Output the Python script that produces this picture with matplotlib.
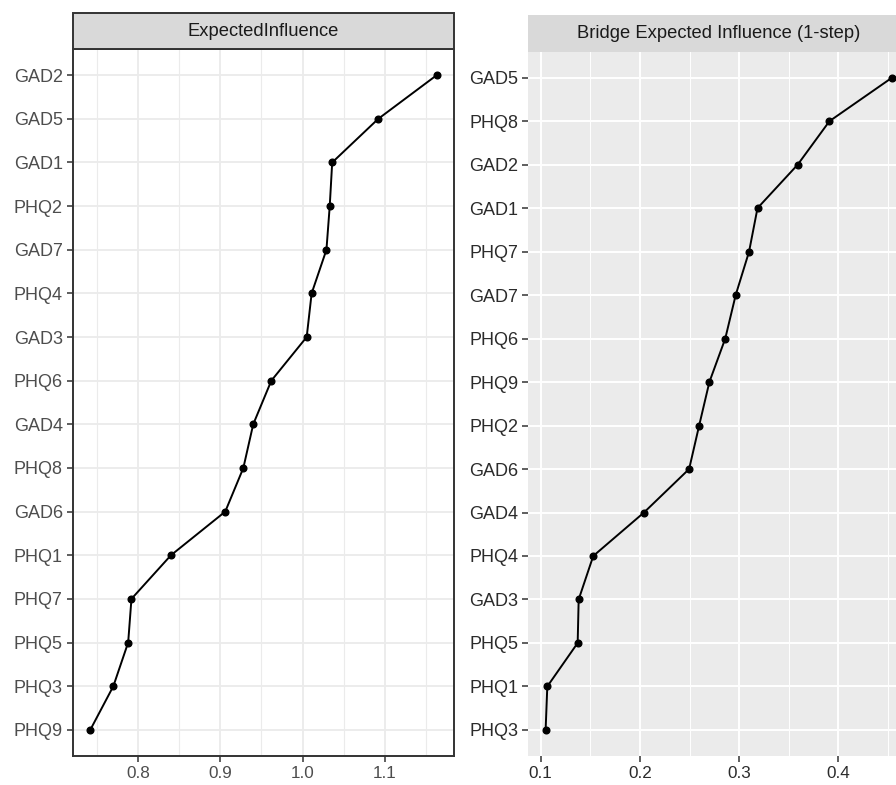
import matplotlib
matplotlib.use("Agg")
import matplotlib.pyplot as plt
from matplotlib.patches import Rectangle

plt.rcParams['font.family'] = ['Liberation Sans', 'DejaVu Sans']

# ExpectedInfluence (top to bottom)
ei_labels = ['GAD2', 'GAD5', 'GAD1', 'PHQ2', 'GAD7', 'PHQ4', 'GAD3', 'PHQ6',
             'GAD4', 'PHQ8', 'GAD6', 'PHQ1', 'PHQ7', 'PHQ5', 'PHQ3', 'PHQ9']
ei_values = [1.163, 1.092, 1.036, 1.033, 1.029, 1.011, 1.005, 0.962,
             0.940, 0.928, 0.906, 0.840, 0.792, 0.788, 0.770, 0.742]

# Bridge Expected Influence (1-step) (top to bottom)
bei_labels = ['GAD5', 'PHQ8', 'GAD2', 'GAD1', 'PHQ7', 'GAD7', 'PHQ6', 'PHQ9',
              'PHQ2', 'GAD6', 'GAD4', 'PHQ4', 'GAD3', 'PHQ5', 'PHQ1', 'PHQ3']
bei_values = [0.454, 0.391, 0.359, 0.3185, 0.310, 0.2965, 0.286, 0.270,
              0.2597, 0.2496, 0.2041, 0.153, 0.1383, 0.1373, 0.1067, 0.105]

ei_ticks = [0.8, 0.9, 1.0, 1.1]
ei_minor = [0.75, 0.85, 0.95, 1.05, 1.15]
bei_ticks = [0.1, 0.2, 0.3, 0.4]
bei_minor = [0.15, 0.25, 0.35, 0.45]

W, H = 896, 785
fig = plt.figure(figsize=(W / 100, H / 100), dpi=100)


def draw_panel(rect, strip_h, labels, values, ticks, minor, title, bw):
    ax = fig.add_axes(rect)
    n = len(labels)
    ypos = list(range(n, 0, -1))
    lo, hi = min(values), max(values)
    pad = (hi - lo) * 0.05
    ax.set_xlim(lo - pad, hi + pad)
    ax.set_ylim(0.4, n + 0.6)

    if bw:
        ax.set_facecolor('white')
        gcol, gmaj, gmin = '#ebebeb', 1.3, 0.8
        txtcol = '#4d4d4d'
    else:
        ax.set_facecolor('#ebebeb')
        gcol, gmaj, gmin = 'white', 1.4, 0.7
        txtcol = '#2b2b2b'

    for x in ticks:
        ax.axvline(x, color=gcol, lw=gmaj, zorder=0)
    for x in minor:
        ax.axvline(x, color=gcol, lw=gmin, zorder=0)
    for y in ypos:
        ax.axhline(y, color=gcol, lw=gmaj, zorder=0)

    ax.plot(values, ypos, color='black', lw=1.4, marker='o', ms=4.8, zorder=3)

    ax.set_xticks(ticks)
    ax.set_xticklabels([f'{t:.1f}' for t in ticks])
    ax.set_yticks(ypos)
    ax.set_yticklabels(labels)
    ax.tick_params(axis='both', length=4.3, width=1.1, color='#333333',
                   labelcolor=txtcol, pad=3)
    ax.tick_params(axis='y', labelsize=13)
    ax.tick_params(axis='x', labelsize=12.3)

    for s in ax.spines.values():
        if bw:
            s.set_color('#333333')
            s.set_linewidth(1.4)
        else:
            s.set_visible(False)

    # facet strip above the panel
    sh = strip_h / (rect[3] * H)
    strip = Rectangle((0, 1), 1, sh, transform=ax.transAxes, clip_on=False,
                      facecolor='#d9d9d9',
                      edgecolor='#333333' if bw else 'none',
                      lw=1.4 if bw else 0, zorder=5)
    ax.add_patch(strip)
    ax.text(0.5, 1 + sh / 2, title, transform=ax.transAxes, ha='center',
            va='center', fontsize=13.2, color='#1a1a1a', zorder=6)
    return ax


draw_panel([73 / W, 29 / H, 381 / W, 707 / H], 36, ei_labels, ei_values,
           ei_ticks, ei_minor, 'ExpectedInfluence', True)
draw_panel([528.3 / W, 29 / H, 381 / W, 704.4 / H], 36.6, bei_labels, bei_values,
           bei_ticks, bei_minor, 'Bridge Expected Influence (1-step)', False)

fig.savefig('out.png', dpi=100)
